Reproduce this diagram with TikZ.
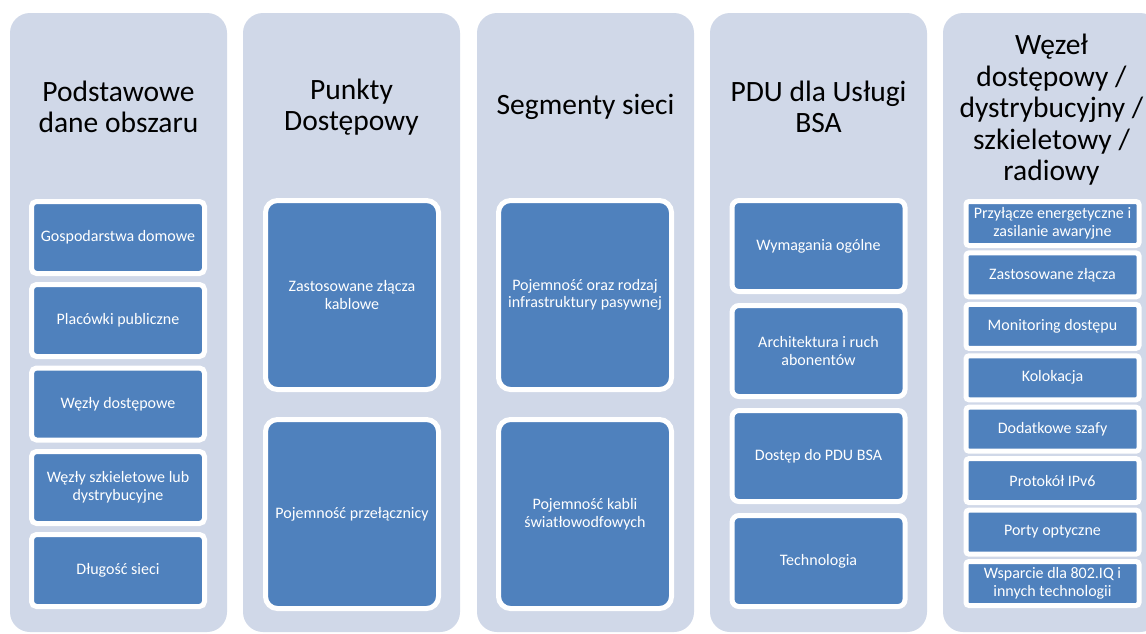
\documentclass[tikz,border=0pt]{standalone}
\usepackage{fontspec}
\setmainfont{Carlito}
\definecolor{bgblue}{HTML}{D0D8E8}
\definecolor{itemblue}{HTML}{4F81BD}
\tikzset{
  colbg/.style={fill=bgblue, draw=none, rounded corners=20pt, minimum width=217pt,
    minimum height=619pt, inner sep=0pt},
  head/.style={font=\fontsize{29.5}{31.5}\selectfont, align=center, text=black, inner sep=0pt},
  item/.style={fill=itemblue, draw=white, line width=5pt, text=white, align=center,
    font=\fontsize{16}{17.5}\selectfont, minimum width=173pt, inner sep=0pt},
  itemA/.style={item, minimum height=72pt, rounded corners=5pt},
  itemB/.style={item, minimum height=189pt, rounded corners=12pt},
  itemC/.style={item, minimum height=91pt, rounded corners=7pt},
  itemD/.style={item, minimum height=44pt, rounded corners=3pt},
}
\begin{document}
\begin{tikzpicture}[x=1pt,y=-1pt]
\useasboundingbox (0,0) rectangle (1146,633);
\clip (0,0) rectangle (1146,633);
\fill[white] (0,0) rectangle (1146,633);

% column backgrounds
\node[colbg] (c1) at (118.5,322.5) {};
\node[colbg] (c2) at (351.5,322.5) {};
\node[colbg] (c3) at (585.5,322.5) {};
\node[colbg] (c4) at (818.5,322.5) {};
\node[colbg] (c5) at (1051.5,322.5) {};

% headers
\node[head] (h1) at (118.5,107) {Podstawowe\\dane obszaru};
\node[head] (h2) at (351.5,107) {Punkty\\Dostępowy};
\node[head] (h3) at (585.5,107) {Segmenty sieci};
\node[head] (h4) at (818.5,107) {PDU dla Usługi\\BSA};
\node[head] (h5) at (1051.5,110) {Węzeł\\dostępowy /\\dystrybucyjny /\\szkieletowy /\\radiowy};

% column 1
\node[itemA] (a1) at (118,237.5) {Gospodarstwa domowe};
\node[itemA] (a2) at (118,320.5) {Placówki publiczne};
\node[itemA] (a3) at (118,404) {Węzły dostępowe};
\node[itemA] (a4) at (118,487.5) {Węzły szkieletowe lub\\dystrybucyjne};
\node[itemA] (a5) at (118,570.5) {Długość sieci};

% column 2
\node[itemB] (b1) at (352,295) {Zastosowane złącza\\kablowe};
\node[itemB] (b2) at (352,514) {Pojemność przełącznicy};

% column 3
\node[itemB] (s1) at (585,295) {Pojemność oraz rodzaj\\infrastruktury pasywnej};
\node[itemB] (s2) at (585,514) {Pojemność kabli\\światłowodfowych};

% column 4
\node[itemC] (p1) at (818.5,246) {Wymagania ogólne};
\node[itemC] (p2) at (818.5,351) {Architektura i ruch\\abonentów};
\node[itemC] (p3) at (818.5,456) {Dostęp do PDU BSA};
\node[itemC] (p4) at (818.5,561) {Technologia};

% column 5
\node[itemD] (w1) at (1052.5,223.5) {Przyłącze energetyczne i\\zasilanie awaryjne};
\node[itemD] (w2) at (1052.5,274.9) {Zastosowane złącza};
\node[itemD] (w3) at (1052.5,326.4) {Monitoring dostępu};
\node[itemD] (w4) at (1052.5,377.8) {Kolokacja};
\node[itemD] (w5) at (1052.5,429.2) {Dodatkowe szafy};
\node[itemD] (w6) at (1052.5,480.6) {Protokół IPv6};
\node[itemD] (w7) at (1052.5,532.1) {Porty optyczne};
\node[itemD] (w8) at (1052.5,583.5) {Wsparcie dla 802.IQ i\\innych technologii};
\end{tikzpicture}
\end{document}
